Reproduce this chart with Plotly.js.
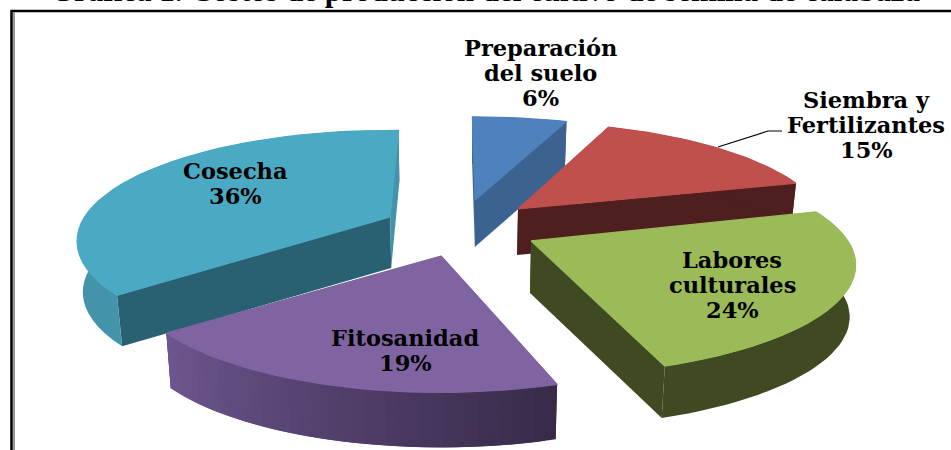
<!DOCTYPE html>
<html>
<head>
<meta charset="utf-8">
<script src="https://cdn.plot.ly/plotly-3.0.1.min.js"></script>
<style>html,body{margin:0;padding:0;background:#fff}#chart{width:951px;height:450px}</style>
</head>
<body>
<div id="chart"></div>
<script>
// Data
const categories = ['Preparación<br>del suelo', 'Siembra y<br>Fertilizantes', 'Labores<br>culturales', 'Fitosanidad', 'Cosecha'];
const values = [6, 15, 24, 19, 36];
const titleText = 'Gráfica 1. Costos de producción del cultivo de semilla de calabaza';

// Style
const topColors = ['#4f81bd', '#c0504d', '#9bbb59', '#8064a2', '#4aa9c3'];
const faceStart = ['#3c6290', '#4f1f1f', '#3f4a22', '#362a48', '#2a6172'];
const faceEnd = ['#3c6290', '#4f1f1f', '#3f4a22', '#362a48', '#4393ab'];
const wallFrom = ['#3c6290', '#4f1f1f', '#3f4a22', '#6e5790', '#4393ab'];
const wallTo = ['#3c6290', '#4f1f1f', '#3f4a22', '#362a48', '#4393ab'];
const pullX = [0.265, 0.244, 0.252, 0.22, 0.24];
const pullY = [0.277, 0.285, 0.21, 0.245, 0.284];
const scaleX = [0.96, 0.95, 0.99, 0.95, 0.955];
const scaleY = [0.92, 0.96, 0.96, 0.97, 0.96];
const spinStart = [0, 0, -2, 1, 0.5];
const spinEnd = [0, 0, -1, 1.5, 2.5];
const depths = [47, 46, 52, 55, 51];
const labelAt = [[540, 73], [866, 125], [732, 285], [405, 350], [235, 183]];
const drawOrder = [0, 1, 4, 2, 3];

// Projection of the pie into the plot's data space
const cx = 460, cy = 230, rx = 320, ry = 110, persp = 0.218, startDeg = -0.6, taper = 0.015, lineGap = 25;
const rad = d => d * Math.PI / 180;
function project(deg) {
  const u = Math.sin(rad(deg)), v = Math.cos(rad(deg)), f = 1 / (1 + persp * v);
  return [rx * u * f, -ry * v * f];
}
const lowX = x => x + (cx - x) * taper;
function mix(a, b, t) {
  const p = (s, i) => parseInt(s.substr(1 + 2 * i, 2), 16);
  return 'rgb(' + [0, 1, 2].map(i => Math.round(p(a, i) + (p(b, i) - p(a, i)) * t)).join(',') + ')';
}
const total = values.reduce((a, b) => a + b, 0);
let acc = startDeg;
const slices = values.map((val, i) => {
  const a0 = acc, a1 = acc + val / total * 360;
  acc = a1;
  const mid = (a0 + a1) / 2;
  return {
    i, a0: a0 + spinStart[i], a1: a1 + spinEnd[i],
    ox: cx + pullX[i] * rx * Math.sin(rad(mid)),
    oy: cy - pullY[i] * ry * Math.cos(rad(mid))
  };
});

const traces = [];
function poly(xs, ys, color, name, lw) {
  traces.push({
    type: 'scatter', mode: 'lines', x: xs.concat(xs[0]), y: ys.concat(ys[0]),
    fill: 'toself', fillcolor: color, line: { color: color, width: lw },
    hoverinfo: 'text', text: name, showlegend: false
  });
}
drawOrder.forEach(k => {
  const s = slices[k], d = depths[k];
  const name = categories[k].replace('<br>', ' ') + ': ' + values[k] + '%';
  const n = 40, arc = [];
  for (let j = 0; j <= n; j++) {
    const p = project(s.a0 + (s.a1 - s.a0) * j / n);
    arc.push([s.ox + p[0] * scaleX[k], s.oy + p[1] * scaleY[k]]);
  }
  // radial cut faces
  [[arc[0], faceStart[k]], [arc[n], faceEnd[k]]].forEach(([e, col]) => {
    poly([s.ox, e[0], lowX(e[0]), lowX(s.ox)], [s.oy, e[1], e[1] + d, s.oy + d], col, name, 0);
  });
  // outer wall, in overlapping bands so the shade can change along the arc
  const flat = wallFrom[k] === wallTo[k];
  const bands = flat ? [[0, n]] : arc.slice(0, n).map((_, j) => [j, Math.min(j + 2, n)]);
  bands.forEach(b => {
    const seg = arc.slice(b[0], b[1] + 1);
    const t = 1 - (b[0] + 0.5) / n;
    poly(seg.map(q => q[0]).concat(seg.map(q => lowX(q[0])).reverse()),
         seg.map(q => q[1]).concat(seg.map(q => q[1] + d).reverse()),
         flat ? wallFrom[k] : mix(wallFrom[k], wallTo[k], t), name, 0);
  });
  // top face
  poly([s.ox].concat(arc.map(q => q[0])), [s.oy].concat(arc.map(q => q[1])), topColors[k], name, 1.2);
});

const labelFont = { family: '"DejaVu Serif", serif', size: 22.5, color: '#000' };
const annotations = [];
categories.forEach((c, i) => {
  const lines = c.split('<br>').concat(values[i] + '%');
  lines.forEach((t, j) => annotations.push({
    xref: 'x', yref: 'y', x: labelAt[i][0], y: labelAt[i][1] + (j - (lines.length - 1) / 2) * lineGap,
    text: '<b>' + t + '</b>', showarrow: false, font: labelFont, xanchor: 'center', yanchor: 'middle'
  }));
});
annotations.push({
  xref: 'x', yref: 'y', x: 485, y: 10, text: '<b>' + titleText + '</b>', showarrow: false,
  font: { family: '"Liberation Serif", serif', size: 31, color: '#000' }, xanchor: 'center', yanchor: 'bottom'
});

const layout = {
  width: 951, height: 450, margin: { l: 0, r: 0, t: 0, b: 0 },
  paper_bgcolor: '#fff', plot_bgcolor: '#fff', showlegend: false, hovermode: 'closest',
  xaxis: { range: [0, 951], visible: false, fixedrange: true },
  yaxis: { range: [450, 0], visible: false, fixedrange: true },
  annotations,
  shapes: [
    { type: 'path', path: 'M 11.5 450 L 11.5 11 L 951 11', line: { color: '#000', width: 2.5 } },
    { type: 'line', x0: 14, x1: 14, y0: 12, y1: 450, line: { color: '#999', width: 2 } },
    { type: 'path', path: 'M 718 147 L 768 131 L 782 131', line: { color: '#000', width: 1.2 } }
  ]
};
Plotly.newPlot('chart', traces, layout, { displayModeBar: false, responsive: false });
</script>
</body>
</html>
